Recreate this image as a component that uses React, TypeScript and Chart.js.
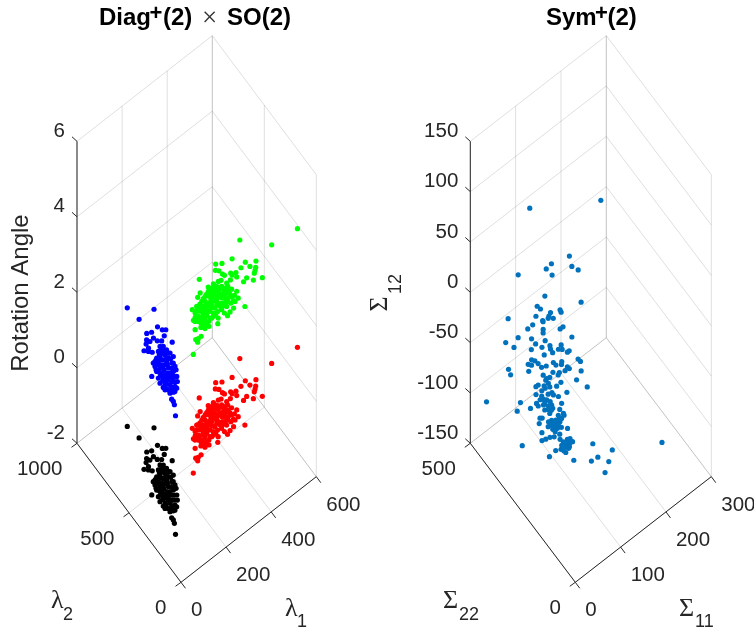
import React, { useEffect, useRef } from "react";
import { Chart, registerables } from "chart.js";

Chart.register(...registerables);

// ---- data: eigenvalues of the clusters, rotation angle of each copy ----
const lambda1Red = [598,492,413,352,295,314,382,414,358,386,400,392,384,281,290,293,296,318,334,318,327,353,336,367,397,217,303,134,115,126,156,175,191,226,247,266,276,286,287,297,287,271,253,235,220,288,176,146,130,121,100,103,90,81,81,43,178,198,217,234,251,265,271,273,272,268,259,256,245,228,209,187,167,152,137,158,178,202,223,241,240,219,201,180,152,136,146,171,189,216,193,217,235,172,166,130,254,282,240,126,164,186,221,191,265,138,143,167,188,207,226,245,256,263,272,250,232,213,195,173,148,132,143,156,179,201,225,237,256,243,228,207,185,168,160,153,135,117,132,189,217,282,218,249,218];
const lambda2Red = [177,195,330,272,306,287,210,177,200,174,149,138,128,279,264,237,224,212,196,198,173,134,127,100,79,295,182,182,130,137,178,219,230,228,224,218,213,181,136,108,72,68,43,38,30,10,28,47,51,71,81,30,29,34,15,-25,186,197,208,211,201,184,164,137,103,77,107,147,173,183,183,175,164,147,130,128,138,143,141,131,96,99,109,112,99,96,70,75,76,78,155,160,150,158,81,90,133,162,192,107,108,92,120,134,136,69,159,180,193,202,202,197,179,154,119,94,106,118,121,120,116,113,86,70,77,84,90,75,75,152,166,161,154,139,156,181,157,119,72,52,53,98,140,116,184];
const angleRed = 0.785;
const angleGreen = 3.927;

const lambda1Black = [80,152,89,125,132,142,81,97,125,134,90,67,57,73,95,107,55,37,48,57,5,-11,13,13,9,14,91,100,102,76,85,105,107,57,70,87,90,45,51,72,89,91,35,45,66,69,76,29,40,54,61,75,20,34,44,59,14,25,39,49,21,31,38,78,63,57,40,50,92,96,100,86,73,52,65,85,95,45,54,73,78,87,31,35,53,54,67,32,44,53,66,26,31,38,50,14,23,32,21,93,37];
const lambda2Black = [690,589,596,497,466,454,505,493,432,375,460,476,459,457,434,418,432,436,417,400,292,29,118,102,83,184,399,387,360,382,370,333,306,357,353,343,316,348,329,326,282,255,326,300,298,271,238,297,272,254,221,203,261,243,218,187,232,207,189,164,183,156,141,307,242,309,224,198,385,361,339,356,366,352,336,322,305,325,294,289,259,236,307,284,278,229,213,265,249,195,178,233,204,171,150,201,172,144,151,276,347];
const angleBlack = -0.785;
const angleBlue = 2.356;

const sigma11 = [133,236,163,134,124,161,168,129,82,108,155,92,95,122,122,107,85,45,103,108,101,92,76,67,92,88,86,117,112,49,67,85,29,38,70,124,77,61,89,105,88,99,104,89,76,113,110,121,123,56,49,60,63,53,97,85,87,95,66,73,102,104,97,19,46,19,79,88,85,119,108,119,64,67,72,85,77,67,52,48,60,54,67,88,67,68,44,51,74,47,56,60,75,18,8,40,41,49,55,60,60,29,9,48,53,69,72,64,53,72,37,40,67,52,58,63,33,47,53,59,44,53,62,70,51,32,56,47,41,34,28,54,68,64,70,57,63,53,57,63,2,97,121,42,50,55,30,62,97,86,110,99,194,65,60,61,52,52,57,64,56,48,56,49,60,66,53,61];
const sigma22 = [504,388,380,403,406,364,349,389,449,378,307,380,371,336,331,349,371,417,348,338,347,354,367,371,352,343,339,311,314,378,353,327,394,374,340,284,325,341,313,294,308,294,287,300,312,273,275,248,241,329,330,322,313,323,274,288,280,271,303,296,258,253,258,359,321,349,277,266,265,229,227,200,291,281,277,252,255,273,289,291,273,276,266,230,256,251,282,270,240,269,257,249,227,300,440,271,265,257,247,242,237,276,296,249,243,223,212,219,236,209,248,244,210,225,218,209,243,229,219,208,224,212,200,188,206,228,195,202,209,214,219,189,172,176,164,180,169,179,172,164,257,126,85,184,176,164,188,141,102,109,78,72,6,281,278,261,263,257,237,214,214,221,206,213,174,167,169,164];
const sigma12 = [36,39.8,12.1,8.3,5.8,7,5.2,2.7,2.8,-7.8,-10.7,-12.9,-14.2,-14.7,-15.7,-15.9,-17.9,-19,-17.7,-18.9,-18.9,-19.9,-22.2,-24.2,-20.5,-24.3,-26,-23,-24.2,-28.5,-29,-30,-30.8,-33.3,-31.6,-28.1,-33.3,-34.3,-32.5,-32.1,-34.1,-34.3,-34.3,-35.9,-36.9,-34.9,-35.8,-39.1,-40.2,-39.4,-41.7,-39.9,-41.2,-42,-40.4,-40.9,-42,-41.7,-43.2,-42.4,-42.9,-43.9,-44.9,-44.2,-45.2,-46.9,-45.5,-45.9,-47,-44.9,-49.3,-52.8,-47,-48.7,-48.2,-50.7,-52.5,-51.2,-52,-52.8,-53.6,-54.8,-52.8,-55.6,-55.8,-57,-56.8,-57.5,-57.6,-59.4,-59.4,-60.3,-61.1,-60.6,-95,-61.1,-62.4,-61.9,-62.4,-61.9,-63.6,-63.6,-64.9,-64.4,-64,-64,-66,-66.9,-66,-66.9,-68.4,-68.2,-68.6,-69.4,-69.4,-70.2,-71,-70.2,-71,-71.9,-72.7,-72.7,-73,-73.5,-75.2,-75.5,-76.3,-77.7,-78,-78.8,-79.5,-79,-78.5,-79,-80.1,-80.1,-81.3,-81.8,-82.6,-82.6,-86,-81.1,-84.3,-84.6,-84,-85.6,-87.6,-89.4,-87.8,-89.8,-90.1,-95.5,-80.5,-49.5,-52.5,-56.5,-59.1,-60.8,-64.4,-68.6,-71,-71.9,-73.5,-74,-81,-80.6,-84.6,-83.5];

// ---- tick values ----
const leftXTicks = [0, 200, 400, 600];
const leftYTicks = [0, 500, 1000];
const leftZTicks = [-2, 0, 2, 4, 6];
const rightXTicks = [0, 100, 200, 300];
const rightYTicks = [0, 500];
const rightZTicks = [-150, -100, -50, 0, 50, 100, 150];

const TEXT = "#262626";
const GRID = "rgba(38,38,38,0.15)";
const SANS = '"Liberation Sans", Arial, sans-serif';
const SERIF = '"Liberation Serif", serif';

type Pt = { x: number; y: number };
type Run = { s: string; font: string; x: number; y: number; color?: string; align?: CanvasTextAlign; rot?: number; base?: CanvasTextBaseline };

function panelChart(canvas: HTMLCanvasElement, left: number, width: number, p: {
  ox: number; xVec: Pt; yVec: Pt; zBottom: number; zPx: number;
  xTicks: number[]; yTicks: number[]; zTicks: number[];
  points: { color: string; xs: number[]; ys: number[]; zs: number[] | number }[];
  texts: Run[];
}) {
  const xMax = p.xTicks[p.xTicks.length - 1];
  const yMax = p.yTicks[p.yTicks.length - 1];
  const zMin = p.zTicks[0];
  const zMax = p.zTicks[p.zTicks.length - 1];
  // 3-D orthographic projection onto the page
  const project = (a: number, b: number, c: number): Pt => ({
    x: p.ox + (a / xMax) * p.xVec.x + (b / yMax) * p.yVec.x,
    y: p.zBottom + (a / xMax) * p.xVec.y + (b / yMax) * p.yVec.y - (c - zMin) * p.zPx,
  });
  const line = (pts: Pt[], color: string) => ({
    type: "scatter" as const, data: pts, showLine: true, borderColor: color, borderWidth: 1,
    pointRadius: 0, order: 2, clip: false,
  });
  const sets: any[] = [];
  // walls and floor
  for (const c of p.zTicks) {
    sets.push(line([project(0, yMax, c), project(xMax, yMax, c)], GRID));
    sets.push(line([project(xMax, yMax, c), project(xMax, 0, c)], GRID));
  }
  for (const a of p.xTicks) {
    sets.push(line([project(a, yMax, zMin), project(a, yMax, zMax)], GRID));
    sets.push(line([project(a, 0, zMin), project(a, yMax, zMin)], GRID));
  }
  for (const b of p.yTicks) {
    sets.push(line([project(xMax, b, zMin), project(xMax, b, zMax)], GRID));
    sets.push(line([project(0, b, zMin), project(xMax, b, zMin)], GRID));
  }
  // axes and tick marks
  sets.push(line([project(0, yMax, zMin), project(0, yMax, zMax)], TEXT));
  sets.push(line([project(0, yMax, zMin), project(0, 0, zMin)], TEXT));
  sets.push(line([project(0, 0, zMin), project(xMax, 0, zMin)], TEXT));
  const off = (q: Pt, dx: number, dy: number): Pt => ({ x: q.x + dx, y: q.y + dy });
  for (const c of p.zTicks) { const q = project(0, yMax, c); sets.push(line([q, off(q, -5, -4.5)], TEXT)); }
  for (const b of p.yTicks) { const q = project(0, b, zMin); sets.push(line([q, off(q, -5.5, 4)], TEXT)); }
  for (const a of p.xTicks) { const q = project(a, 0, zMin); sets.push(line([q, off(q, 4.5, 6)], TEXT)); }
  // points
  for (const s of p.points) {
    sets.push({
      type: "scatter" as const,
      data: s.xs.map((v, i) => project(v, s.ys[i], Array.isArray(s.zs) ? s.zs[i] : s.zs)),
      backgroundColor: s.color, borderWidth: 0, pointRadius: 2.6, order: 1, clip: false,
    });
  }
  const tickFont = `20.5px ${SANS}`;
  const texts: Run[] = [
    ...p.zTicks.map((c): Run => { const q = project(0, yMax, c); return { s: String(c), font: tickFont, x: q.x - 12, y: q.y - 10, align: "right" }; }),
    ...p.yTicks.map((b): Run => { const q = project(0, b, zMin); return { s: String(b), font: tickFont, x: q.x - 14.5, y: q.y + 26.5, align: "right" }; }),
    ...p.xTicks.map((a): Run => { const q = project(a, 0, zMin); return { s: String(a), font: tickFont, x: q.x + 10, y: q.y + 28.5, align: "left" }; }),
    ...p.texts,
  ];
  return new Chart(canvas, {
    type: "scatter",
    data: { datasets: sets },
    options: {
      animation: false, responsive: false, maintainAspectRatio: false,
      layout: { padding: 0, autoPadding: false },
      plugins: { legend: { display: false }, tooltip: { enabled: false }, title: { display: false } },
      scales: {
        x: { type: "linear", display: false, min: left, max: left + width },
        y: { type: "linear", display: false, min: 0, max: 630, reverse: true },
      },
    },
    plugins: [{
      id: "panelText",
      afterDraw(chart: any) {
        const ctx = chart.ctx as CanvasRenderingContext2D;
        for (const t of texts) {
          ctx.save();
          ctx.translate(t.x - left, t.y);
          if (t.rot) ctx.rotate(t.rot);
          ctx.font = t.font;
          ctx.fillStyle = t.color ?? TEXT;
          ctx.textAlign = t.align ?? "left";
          ctx.textBaseline = t.base ?? "middle";
          ctx.fillText(t.s, 0, 0);
          ctx.restore();
        }
      },
    }],
  } as any);
}

export default function App() {
  const leftRef = useRef<HTMLCanvasElement>(null);
  const rightRef = useRef<HTMLCanvasElement>(null);
  useEffect(() => {
    const bold = `bold 24px ${SANS}`;
    const plus = `bold 22px ${SANS}`;
    const a = panelChart(leftRef.current!, 0, 365, {
      ox: 181, xVec: { x: 135.3, y: -105.6 }, yVec: { x: -104, y: -139 }, zBottom: 582.3, zPx: 37.75,
      xTicks: leftXTicks, yTicks: leftYTicks, zTicks: leftZTicks,
      points: [
        { color: "#000000", xs: lambda1Black, ys: lambda2Black, zs: angleBlack },
        { color: "#0000ff", xs: lambda1Black, ys: lambda2Black, zs: angleBlue },
        { color: "#ff0000", xs: lambda1Red, ys: lambda2Red, zs: angleRed },
        { color: "#00ff00", xs: lambda1Red, ys: lambda2Red, zs: angleGreen },
      ],
      texts: [
        { s: "Diag", font: bold, x: 99, y: 25, color: "#000", base: "alphabetic" },
        { s: "+", font: plus, x: 149.5, y: 20, color: "#000", base: "alphabetic" },
        { s: "(2)", font: bold, x: 163, y: 25, color: "#000", base: "alphabetic" },
        { s: "\u00d7", font: `27px ${SERIF}`, x: 209.5, y: 26, color: "#333", align: "center", base: "alphabetic" },
        { s: "SO(2)", font: bold, x: 227, y: 25, color: "#000", base: "alphabetic" },
        { s: "Rotation Angle", font: `24px ${SANS}`, x: 21, y: 293, align: "center", rot: -Math.PI / 2 },
        { s: "\u03bb", font: `26px ${SERIF}`, x: 51, y: 601 },
        { s: "2", font: `18px ${SANS}`, x: 63, y: 615 },
        { s: "\u03bb", font: `26px ${SERIF}`, x: 285, y: 609 },
        { s: "1", font: `18px ${SANS}`, x: 297, y: 622 },
      ],
    });
    const b = panelChart(rightRef.current!, 365, 389, {
      ox: 575.3, xVec: { x: 136, y: -105.6 }, yVec: { x: -105, y: -139 }, zBottom: 582.3, zPx: 302 / 300,
      xTicks: rightXTicks, yTicks: rightYTicks, zTicks: rightZTicks,
      points: [{ color: "#0072bd", xs: sigma11, ys: sigma22, zs: sigma12 }],
      texts: [
        { s: "Sym", font: bold, x: 546, y: 25, color: "#000", base: "alphabetic" },
        { s: "+", font: plus, x: 595, y: 20, color: "#000", base: "alphabetic" },
        { s: "(2)", font: bold, x: 607.5, y: 25, color: "#000", base: "alphabetic" },
        { s: "\u03a3", font: `26px ${SERIF}`, x: 380, y: 304, align: "center", rot: -Math.PI / 2 },
        { s: "12", font: `18px ${SANS}`, x: 396, y: 284, align: "center", rot: -Math.PI / 2 },
        { s: "\u03a3", font: `26px ${SERIF}`, x: 443, y: 601 },
        { s: "22", font: `18px ${SANS}`, x: 459, y: 615 },
        { s: "\u03a3", font: `26px ${SERIF}`, x: 679, y: 609 },
        { s: "11", font: `18px ${SANS}`, x: 695, y: 622 },
      ],
    });
    return () => { a.destroy(); b.destroy(); };
  }, []);
  return (
    <div style={{ position: "absolute", left: 0, top: 0, width: 754, height: 630, background: "#fff", overflow: "hidden" }}>
      <canvas ref={leftRef} width={365} height={630} style={{ position: "absolute", left: 0, top: 0, width: 365, height: 630 }} />
      <canvas ref={rightRef} width={389} height={630} style={{ position: "absolute", left: 365, top: 0, width: 389, height: 630 }} />
    </div>
  );
}
